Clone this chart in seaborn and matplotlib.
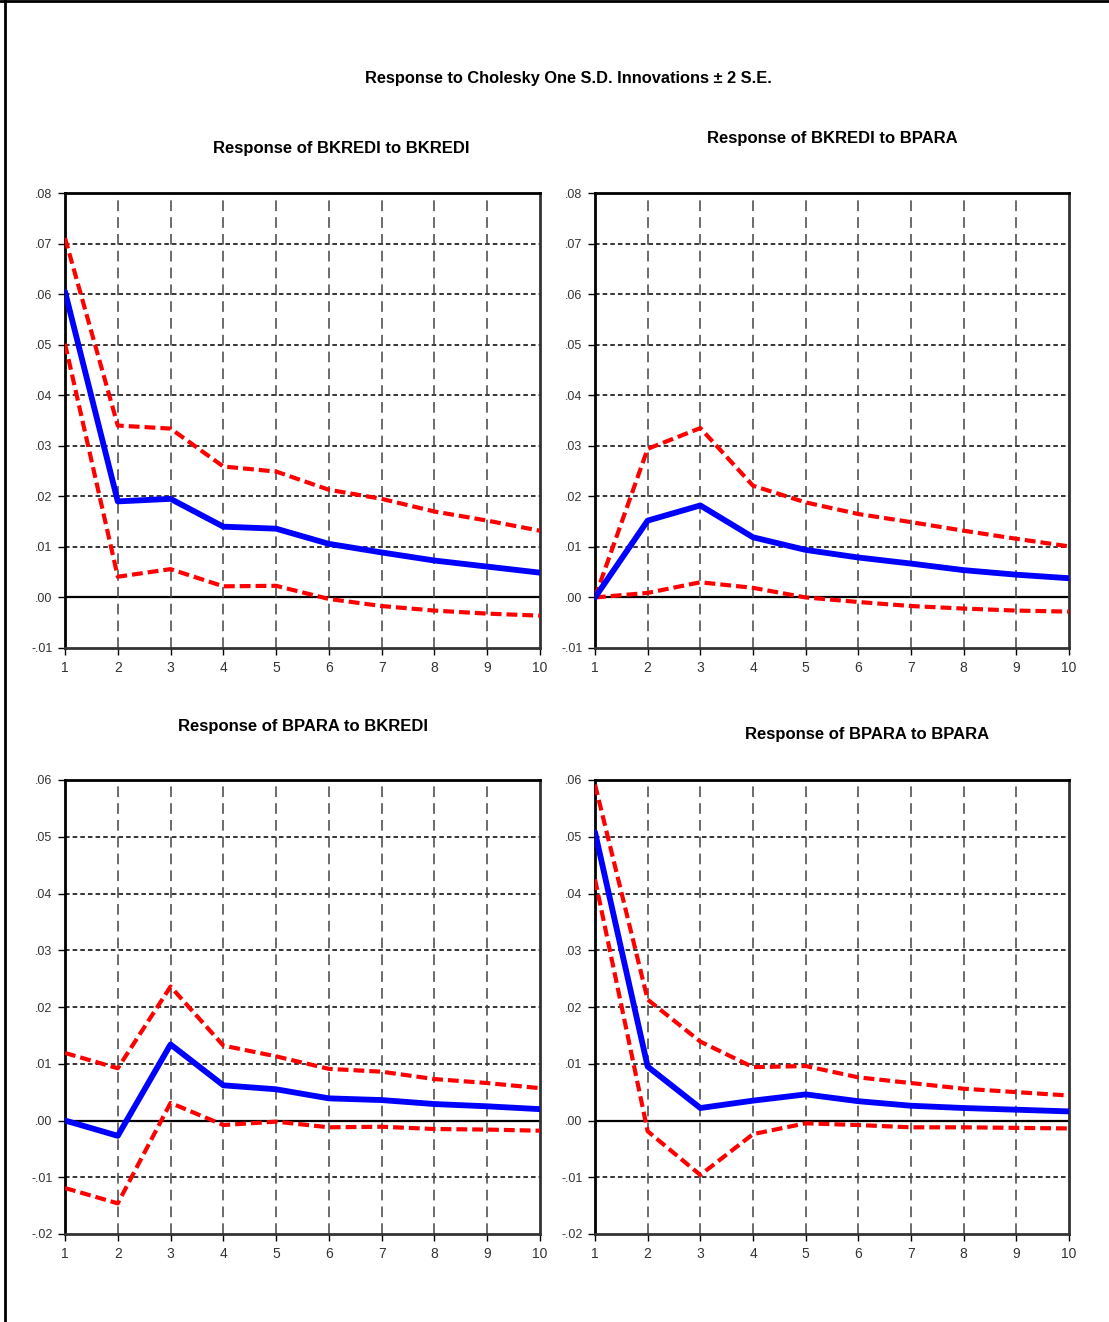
import numpy as np
import pandas as pd
import seaborn as sns
import matplotlib.pyplot as plt
from matplotlib.lines import Line2D
from matplotlib.ticker import FuncFormatter

sns.set_style("white")
plt.rcParams['font.family'] = ['Liberation Sans', 'DejaVu Sans']

periods = list(range(1, 11))

# Response of BKREDI to BKREDI
kk_resp = [0.0605, 0.0190, 0.0195, 0.0140, 0.0136, 0.0106, 0.0089, 0.0073, 0.0061, 0.0049]
kk_upper = [0.0711, 0.0340, 0.0334, 0.0259, 0.0249, 0.0213, 0.0195, 0.0170, 0.0152, 0.0132]
kk_lower = [0.0502, 0.0041, 0.0056, 0.0022, 0.0023, -0.0003, -0.0017, -0.0026, -0.0032, -0.0036]

# Response of BKREDI to BPARA
kp_resp = [0.0000, 0.0152, 0.0182, 0.0119, 0.0094, 0.0079, 0.0067, 0.0054, 0.0045, 0.0038]
kp_upper = [0.0000, 0.0294, 0.0335, 0.0221, 0.0188, 0.0165, 0.0149, 0.0132, 0.0116, 0.0101]
kp_lower = [0.0000, 0.0009, 0.0030, 0.0019, 0.0000, -0.0009, -0.0017, -0.0022, -0.0026, -0.0028]

# Response of BPARA to BKREDI
pk_resp = [0.0000, -0.0027, 0.0134, 0.0062, 0.0055, 0.0039, 0.0036, 0.0029, 0.0025, 0.0020]
pk_upper = [0.0119, 0.0092, 0.0236, 0.0132, 0.0113, 0.0091, 0.0086, 0.0073, 0.0066, 0.0057]
pk_lower = [-0.0119, -0.0146, 0.0031, -0.0008, -0.0002, -0.0012, -0.0011, -0.0015, -0.0016, -0.0018]

# Response of BPARA to BPARA
pp_resp = [0.0508, 0.0095, 0.0022, 0.0035, 0.0046, 0.0034, 0.0026, 0.0022, 0.0019, 0.0016]
pp_upper = [0.0592, 0.0213, 0.0139, 0.0094, 0.0096, 0.0076, 0.0066, 0.0056, 0.0050, 0.0044]
pp_lower = [0.0425, -0.0019, -0.0096, -0.0024, -0.0005, -0.0008, -0.0012, -0.0012, -0.0013, -0.0014]

titles = ["Response of BKREDI to BKREDI", "Response of BKREDI to BPARA",
          "Response of BPARA to BKREDI", "Response of BPARA to BPARA"]
suptitle = "Response to Cholesky One S.D. Innovations \u00b1 2 S.E."

W, H = 1109, 1322
fig = plt.figure(figsize=(W / 100, H / 100), dpi=100)

def px(x0, y0, x1, y1):
    return [x0 / W, 1 - y1 / H, (x1 - x0) / W, (y1 - y0) / H]

panels = [
    (px(65, 193, 540, 648), kk_resp, kk_upper, kk_lower, (-0.01, 0.08)),
    (px(595, 193, 1069, 648), kp_resp, kp_upper, kp_lower, (-0.01, 0.08)),
    (px(65, 780, 540, 1234), pk_resp, pk_upper, pk_lower, (-0.02, 0.06)),
    (px(595, 780, 1069, 1234), pp_resp, pp_upper, pp_lower, (-0.02, 0.06)),
]

fmt = FuncFormatter(lambda v, p: f"{v:.2f}".replace("0.", ".", 1))

for rect, resp, up, lo, (ymin, ymax) in panels:
    ax = fig.add_axes(rect)
    df = pd.DataFrame({"period": periods, "resp": resp, "upper": up, "lower": lo})
    yt = np.round(np.arange(ymin, ymax + 0.001, 0.01), 2)
    for v in yt[1:-1]:
        if abs(v) < 1e-9:
            ax.axhline(0, color="black", lw=1.6, zorder=1)
        else:
            ax.axhline(v, color="black", lw=1.1, dashes=(3, 2), zorder=1)
    for x in periods[1:-1]:
        ax.axvline(x, color="#444444", lw=1.1, dashes=(7, 4), zorder=1)
    sns.lineplot(data=df, x="period", y="upper", ax=ax, color="#ff0000", lw=3.0,
                 zorder=3).lines[-1].set_dashes((2.6, 1.2))
    sns.lineplot(data=df, x="period", y="lower", ax=ax, color="#ff0000", lw=3.0,
                 zorder=3).lines[-1].set_dashes((2.6, 1.2))
    sns.lineplot(data=df, x="period", y="resp", ax=ax, color="#0000ff", lw=4.2, zorder=4)
    ax.set_xlim(1, 10)
    ax.set_ylim(ymin, ymax)
    ax.set_xticks(periods)
    ax.set_yticks(yt)
    ax.yaxis.set_major_formatter(fmt)
    ax.set_xlabel("")
    ax.set_ylabel("")
    ax.tick_params(axis="both", direction="out", length=5, width=1, color="black",
                   labelcolor="#333333", pad=4, left=True, bottom=True)
    ax.tick_params(axis="x", labelsize=10)
    ax.tick_params(axis="y", labelsize=9)
    for s in ["top", "left"]:
        ax.spines[s].set_color("black")
        ax.spines[s].set_linewidth(2)
    for s in ["bottom", "right"]:
        ax.spines[s].set_color("#333333")
        ax.spines[s].set_linewidth(2)

fig.text(568 / W, 1 - 78 / H, suptitle, ha="center", va="center",
         fontsize=11.8, fontweight="bold", color="black")
for (x, y), t in zip([(341, 149), (832, 139), (303, 726), (867, 735)], titles):
    fig.text(x / W, 1 - y / H, t, ha="center", va="center",
             fontsize=12, fontweight="bold", color="black")

fig.add_artist(Line2D([5 / W, 5 / W], [0, 1], color="black", lw=2))
fig.add_artist(Line2D([0, 1], [1 - 1 / H, 1 - 1 / H], color="black", lw=2))

fig.savefig("out.png", dpi=100)
